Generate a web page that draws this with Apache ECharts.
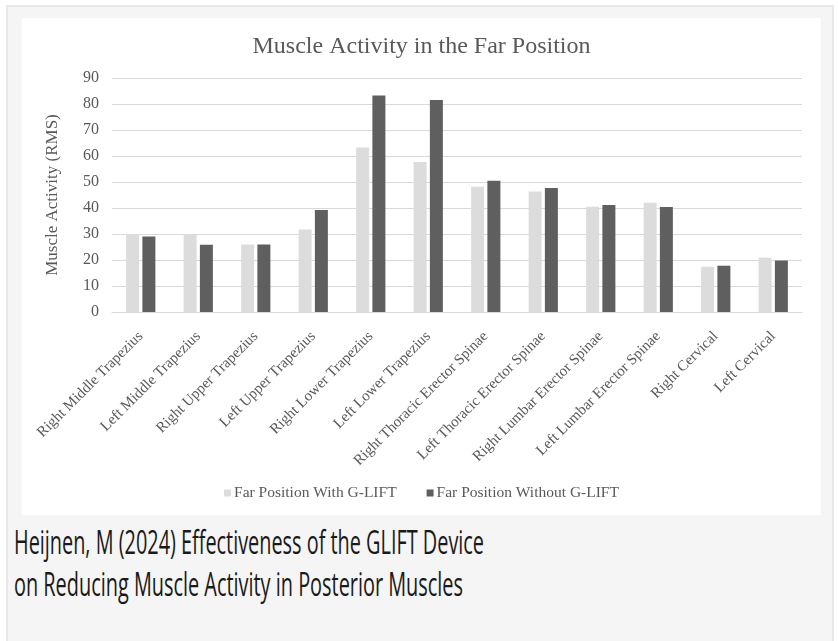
<!DOCTYPE html>
<html>
<head>
<meta charset="utf-8">
<script src="https://cdn.jsdelivr.net/npm/echarts@6/dist/echarts.min.js"></script>
<style>
    html, body { margin: 0; padding: 0; background: #ffffff; width: 838px; height: 641px; overflow: hidden; }
    #outer { position: absolute; left: 6px; top: 5px; width: 828px; height: 660px; background: #f5f5f5; border: 2px solid #e8e8e8; box-sizing: border-box; }
    #chart { position: absolute; left: 22px; top: 18px; width: 799px; height: 497px; background: #ffffff; }
    .cap { position: absolute; left: 14px; font-family: "Open Sans", sans-serif; font-size: 32px; color: #1a1a1a; white-space: nowrap; transform-origin: 0 0; line-height: 40px; }
</style>
</head>
<body>
<div id="outer"></div>
<div id="chart"></div>
<div class="cap" id="cap1" style="top:522px;">Heijnen, M (2024) Effectiveness of the GLIFT Device</div>
<div class="cap" id="cap2" style="top:564px;">on Reducing Muscle Activity in Posterior Muscles</div>
<script>
// 数据
var categories = ['Right Middle Trapezius', 'Left Middle Trapezius', 'Right Upper Trapezius', 'Left Upper Trapezius',
    'Right Lower Trapezius', 'Left Lower Trapezius', 'Right Thoracic Erector Spinae', 'Left Thoracic Erector Spinae',
    'Right Lumbar Erector Spinae', 'Left Lumbar Erector Spinae', 'Right Cervical', 'Left Cervical'];
var withGlift = [30.0, 30.0, 26.0, 31.7, 63.3, 57.7, 48.2, 46.3, 40.5, 42.0, 17.4, 20.9];
var withoutGlift = [29.0, 25.9, 26.0, 39.2, 83.3, 81.5, 50.5, 47.7, 41.2, 40.4, 17.8, 19.8];
var seriesNames = ['Far Position With G-LIFT', 'Far Position Without G-LIFT'];

var serif = '"Liberation Serif", "Times New Roman", serif';
var textGray = '#595959';

var myChart = echarts.init(document.getElementById('chart'));
var option = {
    animation: false,
    title: {
        text: 'Muscle Activity in the Far Position',
        left: 'center',
        top: 12,
        textStyle: { fontFamily: serif, fontSize: 24, fontWeight: 'normal', color: textGray }
    },
    legend: {
        bottom: 9,
        left: 'center',
        itemWidth: 7,
        itemHeight: 7,
        itemGap: 30,
        icon: 'rect',
        textStyle: { fontFamily: serif, fontSize: 15.5, color: textGray, padding: [0, 0, 0, -2] },
        data: seriesNames
    },
    grid: {
        left: 90,
        right: 19,
        top: 60,
        bottom: 203
    },
    xAxis: [{
        type: 'category',
        data: categories,
        axisLine: { lineStyle: { color: '#d9d9d9' } },
        axisTick: { show: false },
        axisLabel: {
            interval: 0,
            rotate: 45,
            margin: 22,
            fontFamily: serif,
            fontSize: 15,
            color: textGray
        }
    }],
    yAxis: [{
        type: 'value',
        min: 0,
        max: 90,
        interval: 10,
        name: 'Muscle Activity (RMS)',
        nameLocation: 'middle',
        nameGap: 51,
        nameTextStyle: { fontFamily: serif, fontSize: 17, color: textGray },
        axisLine: { show: false },
        axisTick: { show: false },
        axisLabel: { fontFamily: serif, fontSize: 16, color: textGray, margin: 13 },
        splitLine: { lineStyle: { color: '#d9d9d9' } }
    }],
    series: [
        {
            name: seriesNames[0],
            type: 'bar',
            barWidth: 13,
            barGap: '25%',
            itemStyle: { color: '#dcdcdc' },
            data: withGlift
        },
        {
            name: seriesNames[1],
            type: 'bar',
            barWidth: 13,
            barGap: '25%',
            itemStyle: { color: '#5f5f5f' },
            data: withoutGlift
        }
    ]
};
myChart.setOption(option);

// caption is condensed in the picture
function fitCap(id, w) {
    var el = document.getElementById(id);
    var cw = el.getBoundingClientRect().width;
    el.style.transform = 'scaleX(' + (w / cw) + ')';
}
fitCap('cap1', 470);
fitCap('cap2', 449);
</script>
</body>
</html>
